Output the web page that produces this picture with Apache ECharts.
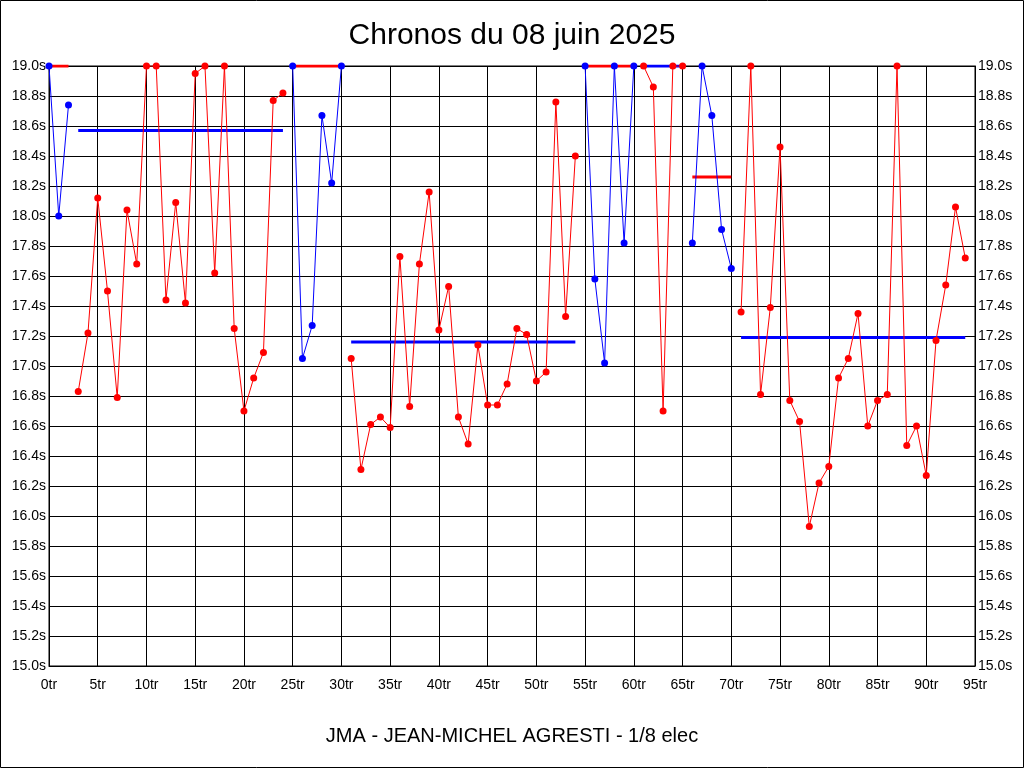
<!DOCTYPE html>
<html>
<head>
<meta charset="utf-8">
<script src="https://cdn.jsdelivr.net/npm/echarts@6/dist/echarts.min.js"></script>
<style>
html,body{margin:0;padding:0;background:#fff;}
#chart{width:1024px;height:768px;}
</style>
</head>
<body>
<div id="chart"></div>
<script>
// Lap times (seconds), laps 0..94 (values at 19.0 are clipped at the top of the chart)
const lapTimes = [
  19.00, 18.00, 18.74,
  16.83, 17.22, 18.12, 17.50, 16.79, 18.04, 17.68, 19.00, 19.00, 17.44,
  18.09, 17.42, 18.95, 19.00, 17.62, 19.00, 17.25, 16.70, 16.92, 17.09, 18.77, 18.82,
  19.00, 17.05, 17.27, 18.67, 18.22, 19.00,
  17.05, 16.31, 16.61, 16.66, 16.59, 17.73, 16.73, 17.68, 18.16, 17.24, 17.53, 16.66,
  16.48, 17.14, 16.74, 16.74, 16.88, 17.25, 17.21, 16.90, 16.96, 18.76, 17.33, 18.40,
  19.00, 17.58, 17.02, 19.00, 17.82, 19.00,
  19.00, 18.86, 16.70, 19.00, 19.00,
  17.82, 19.00, 18.67, 17.91, 17.65,
  17.36, 19.00, 16.81, 17.39, 18.46, 16.77, 16.63, 15.93, 16.22, 16.33, 16.92, 17.05,
  17.35, 16.60, 16.77, 16.81, 19.00, 16.47, 16.60, 16.27, 17.17, 17.54, 18.06, 17.72
];
// Stints (first lap, last lap) — alternate blue-point / red-point stints
const segmentStart = [0, 3, 25, 31, 55, 61, 66, 71];
const segmentEnd   = [2, 24, 30, 54, 60, 65, 70, 94];
// Average level drawn over each stint
const segmentAverage = [19.00, 18.57, 19.00, 17.16, 19.00, 19.00, 18.26, 17.19];

const titleText = 'Chronos du 08 juin 2025';
const subtitleText = 'JMA - JEAN-MICHEL AGRESTI - 1/8 elec';

const BLUE = '#0000ff', RED = '#ff0000';
const FONT = 'Liberation Sans, Arial, sans-serif';

const series = [];
segmentStart.forEach((s, i) => {
  const e = segmentEnd[i];
  const pointColor = i % 2 === 0 ? BLUE : RED;
  const avgColor = i % 2 === 0 ? RED : BLUE;
  const pts = [];
  for (let k = s; k <= e; k++) pts.push([k, lapTimes[k]]);
  series.push({
    type: 'line', data: [[s, segmentAverage[i]], [e, segmentAverage[i]]],
    showSymbol: false, symbol: 'none',
    lineStyle: { color: avgColor, width: 3 }, z: 2, silent: true
  });
  series.push({
    type: 'line', data: pts,
    symbol: 'circle', symbolSize: 7,
    itemStyle: { color: pointColor },
    lineStyle: { color: pointColor, width: 1 }, z: 3, silent: true
  });
});

const yAxisBase = {
  type: 'value', min: 15, max: 19, interval: 0.2,
  axisLine: { show: true, lineStyle: { color: '#000', width: 1 } },
  axisTick: { show: false },
  axisLabel: { color: '#000', fontSize: 14, fontFamily: FONT, margin: 3,
    formatter: v => v.toFixed(1) + 's' }
};

const chart = echarts.init(document.getElementById('chart'), null, { renderer: 'canvas' });
chart.setOption({
  animation: false,
  backgroundColor: '#fff',
  title: [
    { text: titleText, left: 'center', top: 16,
      textStyle: { fontSize: 30, fontWeight: 'normal', color: '#000', fontFamily: FONT } },
    { text: subtitleText, left: 'center', top: 721,
      textStyle: { fontSize: 20, fontWeight: 'normal', color: '#000', fontFamily: FONT } }
  ],
  grid: { left: 49, right: 49, top: 66, bottom: 102, show: true, borderColor: '#000', borderWidth: 1 },
  xAxis: {
    type: 'value', min: 0, max: 95, interval: 5,
    axisLine: { show: true, lineStyle: { color: '#000', width: 1 } },
    axisTick: { show: false },
    splitLine: { show: true, lineStyle: { color: '#000', width: 1 } },
    axisLabel: { color: '#000', fontSize: 14, fontFamily: FONT, margin: 12,
      formatter: v => v + 'tr' }
  },
  yAxis: [
    Object.assign({}, yAxisBase, { position: 'left',
      splitLine: { show: true, lineStyle: { color: '#000', width: 1 } } }),
    Object.assign({}, yAxisBase, { position: 'right', splitLine: { show: false } })
  ],
  graphic: [{
    type: 'rect', shape: { x: 0.5, y: 0.5, width: 1023, height: 767 },
    style: { fill: 'none', stroke: '#000', lineWidth: 1 }, silent: true
  }],
  series: series
});
</script>
</body>
</html>
